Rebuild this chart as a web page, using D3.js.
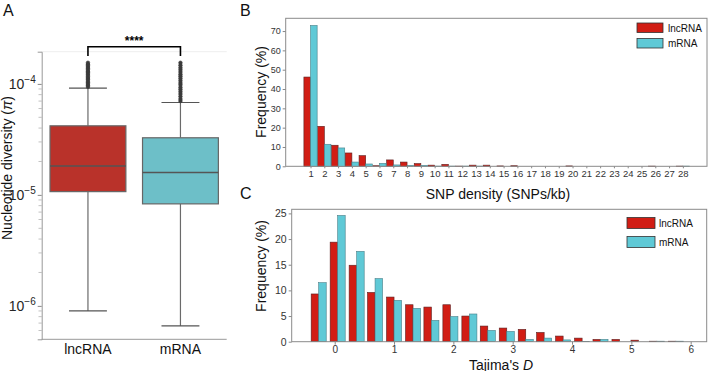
<!DOCTYPE html>
<html>
<head>
<meta charset="utf-8">
<script src="https://cdn.jsdelivr.net/npm/d3@7"></script>
<style>
  body { margin: 0; background: #fff; }
  svg { font-family: "Liberation Sans", Arial, sans-serif; display: block; }
</style>
</head>
<body>
<div id="fig"></div>
<script>
// ---- data: panel A (nucleotide diversity, boxplot) ----
var boxGroups = ["lncRNA", "mRNA"];
var boxQ1 = [1.07e-5, 8.3e-6];
var boxMedian = [1.82e-5, 1.59e-5];
var boxQ3 = [4.19e-5, 3.27e-5];
var whiskerLow = [9.0e-7, 6.6e-7];
var whiskerHigh = [9.15e-5, 6.8e-5];
var outliersLnc = [9.4e-5, 9.7e-5, 1.0e-4, 1.03e-4, 1.06e-4, 1.1e-4, 1.13e-4, 1.16e-4, 1.2e-4,
                   1.23e-4, 1.27e-4, 1.3e-4, 1.34e-4, 1.38e-4, 1.42e-4, 1.46e-4, 1.5e-4, 1.55e-4];
var outliersMrna = [7.0e-5, 7.3e-5, 7.7e-5, 8.1e-5, 8.5e-5, 8.9e-5, 9.3e-5, 9.8e-5, 1.02e-4, 1.07e-4,
                    1.12e-4, 1.17e-4, 1.22e-4, 1.28e-4, 1.34e-4, 1.4e-4, 1.47e-4, 1.55e-4];
var yTicksA = [1e-6, 1e-5, 1e-4];
var yTickExpA = ["\u22126", "\u22125", "\u22124"];

// ---- data: panel B (SNP density) ----
var snpDensity = [1,2,3,4,5,6,7,8,9,10,11,12,13,14,15,16,17,18,19,20,21,22,23,24,25,26,27,28];
var snpLnc  = [46.2,20.7,10.9,6.9,5.5,0.3,3.3,2.2,1.4,0.6,1.0,0.1,0.6,0.6,0.2,0.3,0,0,0,0.2,0,0,0,0,0,0.1,0,0.1];
var snpMrna = [72.9,11.4,9.5,2.2,1.2,1.5,0.7,0.5,0.5,0.1,0.1,0.1,0.1,0,0,0,0,0,0,0,0,0,0,0,0,0,0,0.1];
var yTicksB = [0,10,20,30,40,50,60,70];

// ---- data: panel C (Tajima's D histogram) ----
var tajimaBins = [-0.27,0.05,0.37,0.68,1.00,1.32,1.63,1.95,2.27,2.58,2.90,3.22,3.53,3.85,4.17,4.48,4.80,5.12,5.43,5.75];
var tajimaBinWidth = 0.317;
var tajimaLnc  = [9.3,19.4,14.9,9.6,8.7,7.2,6.75,7.2,5.0,3.05,2.66,2.4,1.8,1.1,0.7,0.45,0.45,0.3,0.1,0.1];
var tajimaMrna = [11.5,24.6,17.6,12.3,8.05,6.5,4.15,4.9,5.4,2.2,2.0,0.45,0.7,0.35,0.05,0.45,0,0,0.1,0.1];
var xTicksC = [0,1,2,3,4,5,6];
var yTicksC = [0,5,10,15,20,25];

var legendNames = ["lncRNA", "mRNA"];

var redBox = "#b9322a", cyanBox = "#6dbfc8";
var redBar = "#d11d14", cyanBar = "#5fc9d6";
var textCol = "#262626";

var svg = d3.select("#fig").append("svg")
    .attr("width", 709)
    .attr("height", 371);

// panel letters
[["A", 3, 16], ["B", 240, 16], ["C", 240, 199]].forEach(function(p){
    svg.append("text").attr("x", p[1]).attr("y", p[2])
        .style("font-size", "16px").style("fill", "#111").text(p[0]);
});

// ================= Panel A =================
var xA = d3.scaleBand().domain(boxGroups).range([41.7, 226.7]);
var yA = d3.scaleLog().domain([5.0e-7, 1.95e-4]).range([339.3, 51.7]);

var gA = svg.append("g");

// faint top frame
gA.append("line").attr("x1", 41.7).attr("x2", 226.7).attr("y1", 51.7).attr("y2", 51.7)
    .style("stroke", "#eeeeee").style("stroke-width", 1);

// minor ticks
var minorA = [];
[1e-7, 1e-6, 1e-5, 1e-4].forEach(function(dec){
    for (var k = 2; k <= 9; k++) {
        var v = dec * k;
        if (v > 5.0e-7 && v < 1.95e-4) minorA.push(v);
    }
});
gA.selectAll(".minor").data(minorA).enter().append("line")
    .attr("x1", 38.5).attr("x2", 41.7)
    .attr("y1", function(d){ return yA(d); }).attr("y2", function(d){ return yA(d); })
    .style("stroke", "#999").style("stroke-width", 0.6);

// y axis
var yAxisA = gA.append("g")
    .attr("transform", "translate(41.7,0)")
    .call(d3.axisLeft(yA).tickValues(yTicksA).tickFormat("").tickSize(4));
yAxisA.select(".domain").style("stroke", "#999");
yAxisA.selectAll(".tick line").style("stroke", "#888");
yAxisA.selectAll(".tick").each(function(d, i){
    var t = d3.select(this).append("text")
        .attr("x", -6).attr("y", 5)
        .style("text-anchor", "end").style("fill", textCol)
        .style("font-size", "14px");
    t.append("tspan").text("10");
    t.append("tspan").attr("dy", -6).style("font-size", "10px").text(yTickExpA[i]);
});

// x axis
gA.append("line").attr("x1", 41.7).attr("x2", 226.7).attr("y1", 339.3).attr("y2", 339.3)
    .style("stroke", "#999");
gA.selectAll(".xlab").data(boxGroups).enter().append("text")
    .attr("x", function(d){ return xA(d) + xA.bandwidth() / 2; })
    .attr("y", 354)
    .style("text-anchor", "middle").style("font-size", "14px").style("fill", "#111")
    .text(function(d){ return d; });

// y label
gA.append("text")
    .attr("transform", "translate(12,168) rotate(-90)")
    .style("text-anchor", "middle").style("font-size", "14px").style("fill", "#111")
    .html("Nucleotide diversity (<tspan font-style='italic'>\u03c0</tspan>)");

// boxes
var boxW = xA.bandwidth() * 0.82;
boxGroups.forEach(function(g, i){
    var cx = xA(g) + xA.bandwidth() / 2;
    var fill = i === 0 ? redBox : cyanBox;
    // whiskers
    gA.append("line").attr("x1", cx).attr("x2", cx)
        .attr("y1", yA(boxQ3[i])).attr("y2", yA(whiskerHigh[i]))
        .style("stroke", "#6a6a6a").style("stroke-width", 1.2);
    gA.append("line").attr("x1", cx).attr("x2", cx)
        .attr("y1", yA(boxQ1[i])).attr("y2", yA(whiskerLow[i]))
        .style("stroke", "#6a6a6a").style("stroke-width", 1.2);
    [whiskerHigh[i], whiskerLow[i]].forEach(function(v){
        gA.append("line").attr("x1", cx - boxW / 4).attr("x2", cx + boxW / 4)
            .attr("y1", yA(v)).attr("y2", yA(v))
            .style("stroke", "#555").style("stroke-width", 1.2);
    });
    gA.append("rect")
        .attr("x", cx - boxW / 2).attr("width", boxW)
        .attr("y", yA(boxQ3[i])).attr("height", yA(boxQ1[i]) - yA(boxQ3[i]))
        .style("fill", fill).style("stroke", "#666").style("stroke-width", 1.2);
    gA.append("line").attr("x1", cx - boxW / 2).attr("x2", cx + boxW / 2)
        .attr("y1", yA(boxMedian[i])).attr("y2", yA(boxMedian[i]))
        .style("stroke", "#555").style("stroke-width", 1.4);
    var outs = i === 0 ? outliersLnc : outliersMrna;
    gA.selectAll(".out" + i).data(outs).enter().append("circle")
        .attr("cx", cx).attr("cy", function(d){ return yA(d); })
        .attr("r", 1.8)
        .style("fill", "#3a3a3a").style("stroke", "#3a3a3a").style("stroke-width", 0.6);
});

// significance bracket
var bx1 = xA(boxGroups[0]) + xA.bandwidth() / 2, bx2 = xA(boxGroups[1]) + xA.bandwidth() / 2;
gA.append("path")
    .attr("d", "M" + bx1 + ",56 L" + bx1 + ",46.7 L" + bx2 + ",46.7 L" + bx2 + ",56")
    .style("fill", "none").style("stroke", "#000").style("stroke-width", 1.6);
gA.append("text").attr("x", (bx1 + bx2) / 2).attr("y", 45)
    .style("text-anchor", "middle").style("font-size", "12px").style("font-weight", "bold")
    .text("****");

// ================= Panel B =================
var xB = d3.scaleLinear().domain([-0.8, 29.75]).range([285.7, 707]);
var yB = d3.scaleLinear().domain([0, 76.6]).range([166.3, 18.3]);
var gB = svg.append("g");
var barWB = 0.48;

gB.selectAll(".bl").data(snpDensity).enter().append("rect")
    .attr("x", function(d){ return xB(d - barWB); })
    .attr("width", xB(barWB) - xB(0))
    .attr("y", function(d, i){ return yB(snpLnc[i]); })
    .attr("height", function(d, i){ return yB(0) - yB(snpLnc[i]); })
    .style("fill", redBar).style("stroke", "#5a2020").style("stroke-width", 0.6);
gB.selectAll(".bm").data(snpDensity).enter().append("rect")
    .attr("x", function(d){ return xB(d); })
    .attr("width", xB(barWB) - xB(0))
    .attr("y", function(d, i){ return yB(snpMrna[i]); })
    .attr("height", function(d, i){ return yB(0) - yB(snpMrna[i]); })
    .style("fill", cyanBar).style("stroke", "#4a7f88").style("stroke-width", 0.6);

var xAxisB = gB.append("g").attr("transform", "translate(0,166.3)")
    .call(d3.axisBottom(xB).tickValues(snpDensity).tickFormat(d3.format("d")).tickSize(2).tickPadding(2));
xAxisB.select(".domain").remove();
xAxisB.selectAll("text").style("font-size", "9.5px").style("fill", "#333")
    .style("font-family", "'Liberation Sans', Arial, sans-serif");
xAxisB.selectAll(".tick line").style("stroke", "#888");

var yAxisB = gB.append("g").attr("transform", "translate(285.7,0)")
    .call(d3.axisLeft(yB).tickValues(yTicksB).tickSize(3).tickPadding(2));
yAxisB.select(".domain").remove();
yAxisB.selectAll("text").style("font-size", "9px").style("fill", "#333")
    .style("font-family", "'Liberation Sans', Arial, sans-serif");
yAxisB.selectAll(".tick line").style("stroke", "#888");

gB.append("rect").attr("x", 285.7).attr("y", 18.3).attr("width", 707 - 285.7).attr("height", 166.3 - 18.3)
    .style("fill", "none").style("stroke", "#8a8a8a").style("stroke-width", 1);

gB.append("text").attr("transform", "translate(266,92) rotate(-90)")
    .style("text-anchor", "middle").style("font-size", "14px").style("fill", "#111")
    .text("Frequency (%)");
gB.append("text").attr("x", 498).attr("y", 199)
    .style("text-anchor", "middle").style("font-size", "14px").style("fill", "#111")
    .text("SNP density (SNPs/kb)");

// legend B
legendNames.forEach(function(n, i){
    gB.append("rect").attr("x", 637).attr("y", 23 + i * 15.5).attr("width", 26).attr("height", 9.5)
        .style("fill", i === 0 ? redBar : cyanBar).style("stroke", "#333").style("stroke-width", 0.8);
    gB.append("text").attr("x", 668).attr("y", 31.5 + i * 15.5)
        .style("font-size", "10px").style("fill", "#111").text(n);
});

// ================= Panel C =================
var xC = d3.scaleLinear().domain([-0.725, 6.27]).range([291.7, 706.7]);
var yC = d3.scaleLinear().domain([0, 25.8]).range([341.7, 209.3]);
var gC = svg.append("g");
var barWC = tajimaBinWidth * 0.8 / 2;

gC.selectAll(".cl").data(tajimaBins).enter().append("rect")
    .attr("x", function(d){ return xC(d - barWC); })
    .attr("width", xC(barWC) - xC(0))
    .attr("y", function(d, i){ return yC(tajimaLnc[i]); })
    .attr("height", function(d, i){ return yC(0) - yC(tajimaLnc[i]); })
    .style("fill", redBar).style("stroke", "#5a2020").style("stroke-width", 0.6);
gC.selectAll(".cm").data(tajimaBins).enter().append("rect")
    .attr("x", function(d){ return xC(d); })
    .attr("width", xC(barWC) - xC(0))
    .attr("y", function(d, i){ return yC(tajimaMrna[i]); })
    .attr("height", function(d, i){ return yC(0) - yC(tajimaMrna[i]); })
    .style("fill", cyanBar).style("stroke", "#4a7f88").style("stroke-width", 0.6);

var xAxisC = gC.append("g").attr("transform", "translate(0,341.7)")
    .call(d3.axisBottom(xC).tickValues(xTicksC).tickFormat(d3.format("d")).tickSize(3).tickPadding(1));
xAxisC.select(".domain").remove();
xAxisC.selectAll("text").style("font-size", "10px").style("fill", "#333")
    .style("font-family", "'Liberation Sans', Arial, sans-serif");
xAxisC.selectAll(".tick line").style("stroke", "#888");

var yAxisC = gC.append("g").attr("transform", "translate(291.7,0)")
    .call(d3.axisLeft(yC).tickValues(yTicksC).tickSize(3).tickPadding(2));
yAxisC.select(".domain").remove();
yAxisC.selectAll("text").style("font-size", "10.5px").style("fill", "#333")
    .style("font-family", "'Liberation Sans', Arial, sans-serif");
yAxisC.selectAll(".tick line").style("stroke", "#888");

gC.append("rect").attr("x", 291.7).attr("y", 209.3).attr("width", 706.7 - 291.7).attr("height", 341.7 - 209.3)
    .style("fill", "none").style("stroke", "#8a8a8a").style("stroke-width", 1);

gC.append("text").attr("transform", "translate(266,266) rotate(-90)")
    .style("text-anchor", "middle").style("font-size", "14px").style("fill", "#111")
    .text("Frequency (%)");
gC.append("text").attr("x", 501).attr("y", 369.5)
    .style("text-anchor", "middle").style("font-size", "14px").style("fill", "#111")
    .html("Tajima's <tspan font-style='italic'>D</tspan>");

// legend C
legendNames.forEach(function(n, i){
    gC.append("rect").attr("x", 627).attr("y", 217.5 + i * 19).attr("width", 28).attr("height", 11)
        .style("fill", i === 0 ? redBar : cyanBar).style("stroke", "#333").style("stroke-width", 0.8);
    gC.append("text").attr("x", 659).attr("y", 226.5 + i * 19)
        .style("font-size", "10px").style("fill", "#111").text(n);
});
</script>
</body>
</html>
